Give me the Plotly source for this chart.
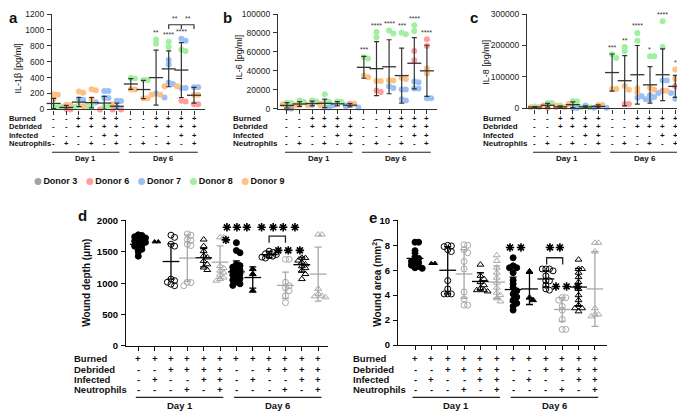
import plotly.graph_objects as go

W, H = 685, 416
# the page puts the figure 8 px in from the top-left corner, so layout pixels are shifted back
OX, OY = 8, 8
FONT = 'Arial, Liberation Sans, sans-serif'
AX = '#333333'
GRAY = '#a8a8a8'

DONORS = ['Donor 3', 'Donor 6', 'Donor 7', 'Donor 8', 'Donor 9']
DONOR_COLORS = ['#a3a3a3', '#ff9c9c', '#9bbff7', '#a0f0a0', '#ffc182']

# ---- top row (a-c): conditions ----
POS_ABC = [0, 1, 2, 3, 4, 5, 6.1, 7.1, 8.1, 9.1, 10.1, 11.1]
BURNED_ABC = ['-', '-', '+', '+', '+', '+', '-', '-', '+', '+', '+', '+']
DEBRIDED_ABC = ['-', '-', '+', '+', '+', '+', '-', '-', '+', '+', '+', '+']
INFECTED_ABC = ['-', '-', '-', '-', '+', '+', '-', '-', '-', '-', '+', '+']
NEUTRO_ABC = ['-', '+', '-', '+', '-', '+', '-', '+', '-', '+', '-', '+']

# IL-1b [pg/ml], one list per condition column
IL1B_D6 = [[], [5, 0], [], [], [0], [0, 0], [], [], [], [], [100, 110], [65, 65]]
IL1B_D7 = [[], [], [130, 120], [90], [230, 230, 145, 145], [110, 105, 30], [], [],
           [200, 150], [620, 565, 340, 320], [865, 890, 270, 270], [280, 280]]
IL1B_D8 = [[30, 28], [30, 30], [50], [50, 40], [30, 30], [], [390, 395], [370, 370],
           [880, 825], [850, 785], [735, 750], []]
IL1B_D9 = [[190, 185, 130], [60, 55], [210, 225, 40], [240, 255, 130], [], [65],
           [250, 252], [140, 140], [185, 185], [290, 290], [], [185, 185]]
IL1B_MEAN = [75, 25, 92, 85, 80, 40, 320, 250, 400, 510, 495, 178]
IL1B_SD = [65, 25, 58, 65, 85, 40, 68, 115, 345, 225, 345, 100]
IL1B_SIG = ['', '', '', '', '', '', '', '', '**', '****', '****', '']

# IL-6 [pg/ml]
IL6_D3 = [[500, 200], [], [], [], [], [], [], [], [], [], [], []]
IL6_D6 = [[], [], [], [], [], [5300], [], [17700, 19300], [], [], [61000, 51300], [73300, 66300]]
IL6_D7 = [[], [], [4300], [1300, 1300], [3700, 3700], [2700, 1300], [], [], [22000, 23700],
          [20300, 20300, 8700, 10000], [28000, 28700, 21300, 21300], [11000, 11000]]
IL6_D8 = [[6700, 6000], [8700, 7000], [8700, 7700], [15300, 7000, 7000], [8000, 7000], [],
          [53000, 54300], [81000, 75300], [79300, 82700], [78700, 80300], [88000, 82000], []]
IL6_D9 = [[4700, 4000], [3700, 3700], [3700, 3700], [5300], [], [5300], [33300, 34700],
          [29300, 29300], [29700, 30000], [31300, 32700], [], [42700, 37300]]
IL6_MEAN = [3500, 5000, 5500, 5700, 5200, 3700, 43700, 42300, 44300, 35000, 48000, 40000]
IL6_SD = [3000, 2500, 2500, 4500, 2200, 1800, 11500, 28500, 28500, 29000, 27000, 27000]
IL6_SIG = ['', '', '', '', '', '', '***', '****', '****', '***', '****', '****']

# IL-8 [pg/ml]
IL8_D6 = [[], [2000], [], [], [], [], [], [14000, 14000], [], [], [56000], [71000, 62000]]
IL8_D7 = [[], [], [], [1000, 1000], [9000], [2000, 2000], [], [], [39000, 34000],
          [42000, 36000, 29000, 29000], [89000, 89000, 49000, 49000], [31000, 31000]]
IL8_D8 = [[6000], [17000, 17000], [9000], [24000, 22000], [4000, 4000], [], [160000, 172000],
          [182000, 195000], [240000, 215000], [166000, 166000], [277000, 195000], []]
IL8_D9 = [[4000, 4000], [9000, 9000], [4000, 4000], [14000], [], [11000, 11000], [62000, 62000],
          [71000, 59000], [64000, 51000], [66000, 59000], [56000], [124000, 94000]]
IL8_MEAN = [4500, 10000, 5000, 12000, 5000, 6500, 114000, 88000, 107000, 75000, 107000, 70000]
IL8_SD = [1500, 6000, 3000, 9000, 3000, 4500, 59000, 80000, 93000, 58000, 82000, 35000]
IL8_SIG = ['', '', '', '', '', '', '***', '**', '****', '*', '****', '*']

# ---- bottom row (d-e): conditions ----
POS_DE = [0, 1, 2, 3, 4, 5, 6, 7, 8, 9, 10, 11]
BURNED_DE = ['+'] * 12
DEBRIDED_DE = ['-', '-', '+', '+', '+', '+', '-', '-', '+', '+', '+', '+']
INFECTED_DE = ['-', '+', '-', '-', '+', '+', '-', '+', '-', '-', '+', '+']
NEUTRO_DE = ['-', '-', '-', '+', '-', '+', '-', '-', '-', '+', '-', '+']
SYMBOL_DE = ['circle', 'triangle-up', 'circle-open', 'circle-open', 'triangle-up-open',
             'triangle-up-open', 'circle', 'triangle-up', 'circle-open', 'circle-open',
             'triangle-up-open', 'triangle-up-open']
GRAY_DE = [False, False, False, True, False, True, False, False, False, True, False, True]

# wound depth (um)
DEPTH = [
    [1770, 1760, 1740, 1720, 1700, 1690, 1670, 1650, 1630, 1610, 1590, 1570, 1540, 1500, 1430],
    [1660, 1660],
    [1765, 1730, 1620, 1590, 1065, 1040, 1015, 985, 960],
    [1785, 1765, 1695, 1680, 1620, 1600, 1015, 1010, 960],
    [1695, 1590, 1510, 1435, 1410, 1355, 1300, 1250, 1210],
    [1730, 1730, 1275, 1240, 1200, 1170, 1135, 1090, 1065, 1040],
    [1645, 1520, 1485, 1300, 1280, 1255, 1235, 1210, 1190, 1170, 1150, 1130, 1100, 1075,
     1050, 1020, 990, 965],
    [1225, 1145, 880],
    [1510, 1490, 1470, 1455, 1440, 1430, 1415, 1400],
    [1380, 1380, 1015, 960, 925, 880, 800, 690],
    [1405, 1400, 1360, 1330, 1300, 1270, 1240, 1200, 1145, 1065],
    [1775, 1775, 910, 830, 800, 790, 775],
]
DEPTH_MEAN = [1620, None, 1345, 1400, 1405, 1335, 1180, 1090, 1455, 965, 1295, 1145]
DEPTH_SD = [95, None, 280, 370, 145, 260, 175, 170, 50, 210, 120, 430]
DEPTH_STAR_X = [5.42, 6.03, 6.64, 5.36, 7.54, 8.25, 8.86, 9.58, 8.56, 9.17, 9.88]
DEPTH_STAR_Y = [1890, 1890, 1890, 1690, 1890, 1890, 1890, 1890, 1522, 1522, 1522]

# wound area (mm2)
AREA = [
    [8.25, 8.25, 7.57, 7.1, 6.95, 6.8, 6.7, 6.6, 6.5, 6.4, 6.3, 6.2, 6.15],
    [6.55, 6.55],
    [8.0, 7.95, 7.9, 7.65, 7.5, 5.17, 4.5, 4.1, 4.1, 4.1],
    [8.05, 8.0, 7.65, 7.4, 6.7, 6.1, 4.25, 3.7, 3.2, 3.2],
    [6.45, 5.55, 5.3, 5.05, 4.8, 4.55, 4.4, 4.4, 4.3],
    [7.2, 6.75, 6.2, 5.8, 5.4, 5.0, 4.6, 4.2, 4.0, 3.75, 3.5],
    [7.0, 6.35, 6.2, 6.2, 5.8, 5.2, 4.9, 4.6, 4.35, 4.1, 3.85, 3.6, 3.35, 3.1, 2.8],
    [5.9, 3.8, 3.6],
    [6.1, 6.1, 6.1, 5.95, 5.55, 5.15, 5.15, 4.8, 4.5, 4.4],
    [3.8, 3.8, 3.6, 3.1, 2.8, 2.05, 1.25, 1.25],
    [6.85, 6.1, 6.1, 5.8, 5.45, 5.05, 4.5, 4.0, 3.6, 3.2, 2.95, 2.95, 2.7],
    [8.2, 8.2, 7.5, 2.95, 2.45, 2.45, 2.3],
]
AREA_MEAN = [6.95, None, 6.0, 5.7, 5.1, 5.05, 4.45, 4.5, 5.3, 2.85, 4.65, 4.5]
AREA_SD = [0.4, None, 1.9, 1.95, 0.7, 1.3, 1.0, 1.25, 0.65, 0.95, 1.5, 3.0]
AREA_STAR_X = [5.81, 6.48, 8.25, 8.86, 8.62, 9.27, 9.94]
AREA_STAR_Y = [7.83, 7.83, 7.83, 7.83, 4.7, 4.7, 4.7]


fig = go.Figure()
layout = {}
annotations = []
shapes = []


def PX(p):
    return min(max(p - OX, 0) / W, 1)


def PY(p):
    return min(max(1 - (p - OY) / H, 0), 1)


def swarm(values, ppu_y, step, ppu_x):
    # simple beeswarm: nudge overlapping points sideways (pixel space)
    placed = []
    offs = [0.0] * len(values)
    order = sorted(range(len(values)), key=lambda i: -values[i])
    for i in order:
        y = values[i] * ppu_y
        x = 0.0
        for k in [0, 1, -1, 2, -2]:
            x = k * step
            if all((x - px) ** 2 + (y - py) ** 2 >= step ** 2 for px, py in placed):
                break
        placed.append((x, y))
        offs[i] = x / ppu_x
    return offs


def text(x, y, s, size, xref='paper', yref='paper', bold=True, xanchor='center',
         yanchor='middle', angle=0, color='#111'):
    annotations.append(dict(
        x=x, y=y, xref=xref, yref=yref, text=s, showarrow=False, textangle=angle,
        xanchor=xanchor, yanchor=yanchor, borderpad=0,
        font=dict(family=FONT, size=size, color=color, weight='bold' if bold else 'normal')))


def axes(n, xdom, ydom, xrange, yrange, ytickvals, pos, tick_font, line_color):
    xa = 'x' if n == 1 else f'x{n}'
    ya = 'y' if n == 1 else f'y{n}'
    sfx = '' if n == 1 else str(n)
    layout['xaxis' + sfx] = dict(
        domain=[PX(xdom[0]), PX(xdom[1])], range=list(xrange), anchor=ya,
        showline=True, linecolor=line_color, linewidth=1.2, ticks='outside', ticklen=4,
        tickcolor=line_color, tickwidth=1.2, tickvals=pos, showticklabels=False,
        showgrid=False, zeroline=False, fixedrange=True)
    layout['yaxis' + sfx] = dict(
        domain=[PY(ydom[1]), PY(ydom[0])], range=list(yrange), anchor=xa,
        showline=True, linecolor=line_color, linewidth=1.2, ticks='outside', ticklen=4,
        tickcolor=line_color, tickwidth=1.2, tickvals=ytickvals, tickformat='d',
        tickfont=tick_font, ticklabelstandoff=1,
        showgrid=False, zeroline=False, fixedrange=True)
    return xa, ya


def condition_table(xa, pos, rows, row_y, label_x, size, day_y, day_lines):
    names = ['Burned', 'Debrided', 'Infected', 'Neutrophils']
    for name, row, y in zip(names, rows, row_y):
        text(PX(label_x), PY(y), name, size, xanchor='left')
        for p, s in zip(pos, row):
            text(p, PY(y), s, size, xref=xa)
    for (x0, x1), lbl in zip(day_lines, ['Day 1', 'Day 6']):
        shapes.append(dict(type='line', xref=xa, yref='paper', x0=x0, x1=x1,
                           y0=PY(day_y[0]), y1=PY(day_y[0]),
                           line=dict(color='#222', width=1.2)))
        text((x0 + x1) / 2, PY(day_y[1]), lbl, size, xref=xa)


def cytokine_panel(n, series, means, sds, sig, xdom, ydom, xrange, yrange, ytickvals,
                   title, title_pos, letter, letter_pos, label_x, label_size=8):
    tick_font = dict(family=FONT, size=8.5, color='#222')
    xa, ya = axes(n, xdom, ydom, xrange, yrange, ytickvals, POS_ABC, tick_font, AX)
    ppu_y = (ydom[1] - ydom[0]) / (yrange[1] - yrange[0])
    ppu_x = (xdom[1] - xdom[0]) / (xrange[1] - xrange[0])
    xs = [[] for _ in DONORS]
    ys = [[] for _ in DONORS]
    col_max = []
    for c in range(12):
        pts = [(d, v) for d, cols in enumerate(series) if cols for v in cols[c]]
        offs = swarm([v for _, v in pts], ppu_y, 4.2, ppu_x)
        for (d, v), o in zip(pts, offs):
            xs[d].append(POS_ABC[c] + o)
            ys[d].append(v)
        col_max.append(max([v for _, v in pts] + [means[c] + sds[c]]))
    for d in range(len(DONORS)):
        if xs[d]:
            fig.add_trace(go.Scatter(
                x=xs[d], y=ys[d], mode='markers', xaxis=xa, yaxis=ya, cliponaxis=False,
                marker=dict(color=DONOR_COLORS[d], size=6, line=dict(width=0)),
                showlegend=False, hoverinfo='skip'))
    fig.add_trace(go.Scatter(
        x=POS_ABC, y=means, mode='markers', xaxis=xa, yaxis=ya, cliponaxis=False,
        marker=dict(symbol='line-ew-open', size=10, color=AX, line=dict(width=1.3, color=AX)),
        error_y=dict(type='data', array=sds, arrayminus=[min(s, m) for m, s in zip(means, sds)],
                     width=2.5, thickness=1.2, color=AX),
        showlegend=False, hoverinfo='skip'))
    for c, s in enumerate(sig):
        if s:
            text(POS_ABC[c], col_max[c] + 2.5 / ppu_y, s, 7, xref=xa, yref=ya, bold=False,
                 yanchor='bottom', color='#333')
    text(PX(title_pos[0]), PY(title_pos[1]), title, 9, bold=False, angle=-90)
    text(PX(letter_pos[0]), PY(letter_pos[1]), letter, 15, xanchor='left')
    condition_table(xa, POS_ABC, [BURNED_ABC, DEBRIDED_ABC, INFECTED_ABC, NEUTRO_ABC],
                    [115.3, 124, 132.7, 141.4], label_x, label_size, (150, 156),
                    [(-0.15, 5.2), (5.95, 11.4)])
    return xa, ya


def wound_panel(n, data, means, sds, star_x, star_y, bracket, xdom, ydom, xrange, yrange,
                ytickvals, title, title_pos, letter, letter_pos, label_x):
    tick_font = dict(family=FONT, size=9.5, color='#000', weight='bold')
    xa, ya = axes(n, xdom, ydom, xrange, yrange, ytickvals, POS_DE, tick_font, '#111')
    ppu_y = (ydom[1] - ydom[0]) / (yrange[1] - yrange[0])
    ppu_x = (xdom[1] - xdom[0]) / (xrange[1] - xrange[0])
    for c, vals in enumerate(data):
        color = GRAY if GRAY_DE[c] else '#000'
        size = 4.5 if c == 1 else 6
        offs = swarm(vals, ppu_y, 3.6, ppu_x)
        fig.add_trace(go.Scatter(
            x=[POS_DE[c] + o for o in offs], y=vals, mode='markers', xaxis=xa, yaxis=ya,
            cliponaxis=False,
            marker=dict(symbol=SYMBOL_DE[c], size=size, color=color,
                        line=dict(width=1, color=color)),
            showlegend=False, hoverinfo='skip'))
    for gray in (False, True):
        color = GRAY if gray else '#000'
        m = [v if (g == gray) else None for v, g in zip(means, GRAY_DE)]
        s = [v if (g == gray) else None for v, g in zip(sds, GRAY_DE)]
        fig.add_trace(go.Scatter(
            x=POS_DE, y=m, mode='markers', xaxis=xa, yaxis=ya, cliponaxis=False,
            marker=dict(symbol='line-ew-open', size=12, color=color,
                        line=dict(width=1.3, color=color)),
            error_y=dict(type='data', array=s, width=3.5, thickness=1.3, color=color),
            showlegend=False, hoverinfo='skip'))
    fig.add_trace(go.Scatter(
        x=star_x, y=star_y, mode='markers', xaxis=xa, yaxis=ya, cliponaxis=False,
        marker=dict(symbol='asterisk-open', size=7, color='#000',
                    line=dict(width=1.6, color='#000')),
        showlegend=False, hoverinfo='skip'))
    x0, x1, ytop, ybot = bracket
    shapes.append(dict(type='path', xref=xa, yref=ya,
                       path=f'M {x0},{ybot} L {x0},{ytop} L {x1},{ytop} L {x1},{ybot}',
                       line=dict(color='#222', width=1.3)))
    text(PX(title_pos[0]), PY(title_pos[1]), title, 10, angle=-90)
    text(PX(letter_pos[0]), PY(letter_pos[1]), letter, 15, xanchor='left')
    condition_table(xa, POS_DE, [BURNED_DE, DEBRIDED_DE, INFECTED_DE, NEUTRO_DE],
                    [362.3, 372.7, 383.3, 394], label_x, 9.5, (401.7, 410),
                    [(-0.15, 5.2), (5.85, 11.2)])


# panel a
xa1, ya1 = cytokine_panel(1, [None, IL1B_D6, IL1B_D7, IL1B_D8, IL1B_D9], IL1B_MEAN, IL1B_SD,
                          IL1B_SIG, (52, 205), (8, 106), (-0.13, 11.97), (0, 1200),
                          [0, 200, 400, 600, 800, 1000, 1200], 'IL-1β [pg/ml]', (18, 64),
                          'a', (1, 12), 3, label_size=7.6)
# bracket + asterisks between IL-1b day-6 groups
shapes.append(dict(type='path', xref=xa1, yref=ya1,
                   path=f'M {POS_ABC[9]},1010 L {POS_ABC[9]},1065 L {POS_ABC[11]},1065 '
                        f'L {POS_ABC[11]},1010 M {POS_ABC[10]},1065 L {POS_ABC[10]},1010',
                   line=dict(color='#333', width=1.2)))
for p in [(POS_ABC[9] + POS_ABC[10]) / 2, (POS_ABC[10] + POS_ABC[11]) / 2]:
    text(p, 1090, '**', 7, xref=xa1, yref=ya1, bold=False, yanchor='bottom', color='#333')

# panel b
cytokine_panel(2, [IL6_D3, IL6_D6, IL6_D7, IL6_D8, IL6_D9], IL6_MEAN, IL6_SD, IL6_SIG,
               (278, 437), (8, 105.3), (-0.71, 11.9), (0, 100000),
               [0, 20000, 40000, 60000, 80000, 100000], 'IL-6 [pg/ml]', (239, 53),
               'b', (222, 12), 232)

# panel c
cytokine_panel(3, [None, IL8_D6, IL8_D7, IL8_D8, IL8_D9], IL8_MEAN, IL8_SD, IL8_SIG,
               (527, 685), (8, 105), (-0.63, 11.87), (0, 300000),
               [0, 100000, 200000, 300000], 'IL-8 [pg/ml]', (486, 57),
               'c', (469, 12), 482)

# panel d
wound_panel(4, DEPTH, DEPTH_MEAN, DEPTH_SD, DEPTH_STAR_X, DEPTH_STAR_Y, (8, 9, 1750, 1643),
            (126, 328), (220, 349), (-0.75, 11.6), (0, 2000), [0, 500, 1000, 1500, 2000],
            'Wound depth (μm)', (87, 284), 'd', (77, 215), 73)

# panel e
wound_panel(5, AREA, AREA_MEAN, AREA_SD, AREA_STAR_X, AREA_STAR_Y, (8.05, 9.03, 7.0, 6.47),
            (398, 607), (220, 348), (-1.04, 11.74), (0, 10), [0, 2, 4, 6, 8, 10],
            'Wound area (mm<sup>2</sup>)', (377, 284), 'e', (368, 217), 352)

# donor key (categorical axis of donors)
KEY_STEP = 51.8
fig.add_trace(go.Scatter(
    x=list(range(len(DONORS))), y=[0] * len(DONORS), mode='markers+text', xaxis='x6', yaxis='y6',
    text=DONORS, textposition='middle right', cliponaxis=False,
    textfont=dict(family=FONT, size=9, color='#111', weight='bold'),
    marker=dict(color=DONOR_COLORS, size=7), showlegend=False, hoverinfo='skip'))
layout['xaxis6'] = dict(domain=[0, 1], range=[-(38 - OX) / KEY_STEP, (W - 38 + OX) / KEY_STEP],
                        anchor='y6', visible=False, fixedrange=True)
layout['yaxis6'] = dict(domain=[PY(190), PY(170)], range=[-1, 1], anchor='x6',
                        visible=False, fixedrange=True)

fig.update_layout(
    width=W, height=H, margin=dict(l=0, r=0, t=0, b=0),
    paper_bgcolor='white', plot_bgcolor='white',
    font=dict(family=FONT, color='#111'),
    annotations=annotations, shapes=shapes, showlegend=False,
    **layout)

fig.write_html('out.html')
